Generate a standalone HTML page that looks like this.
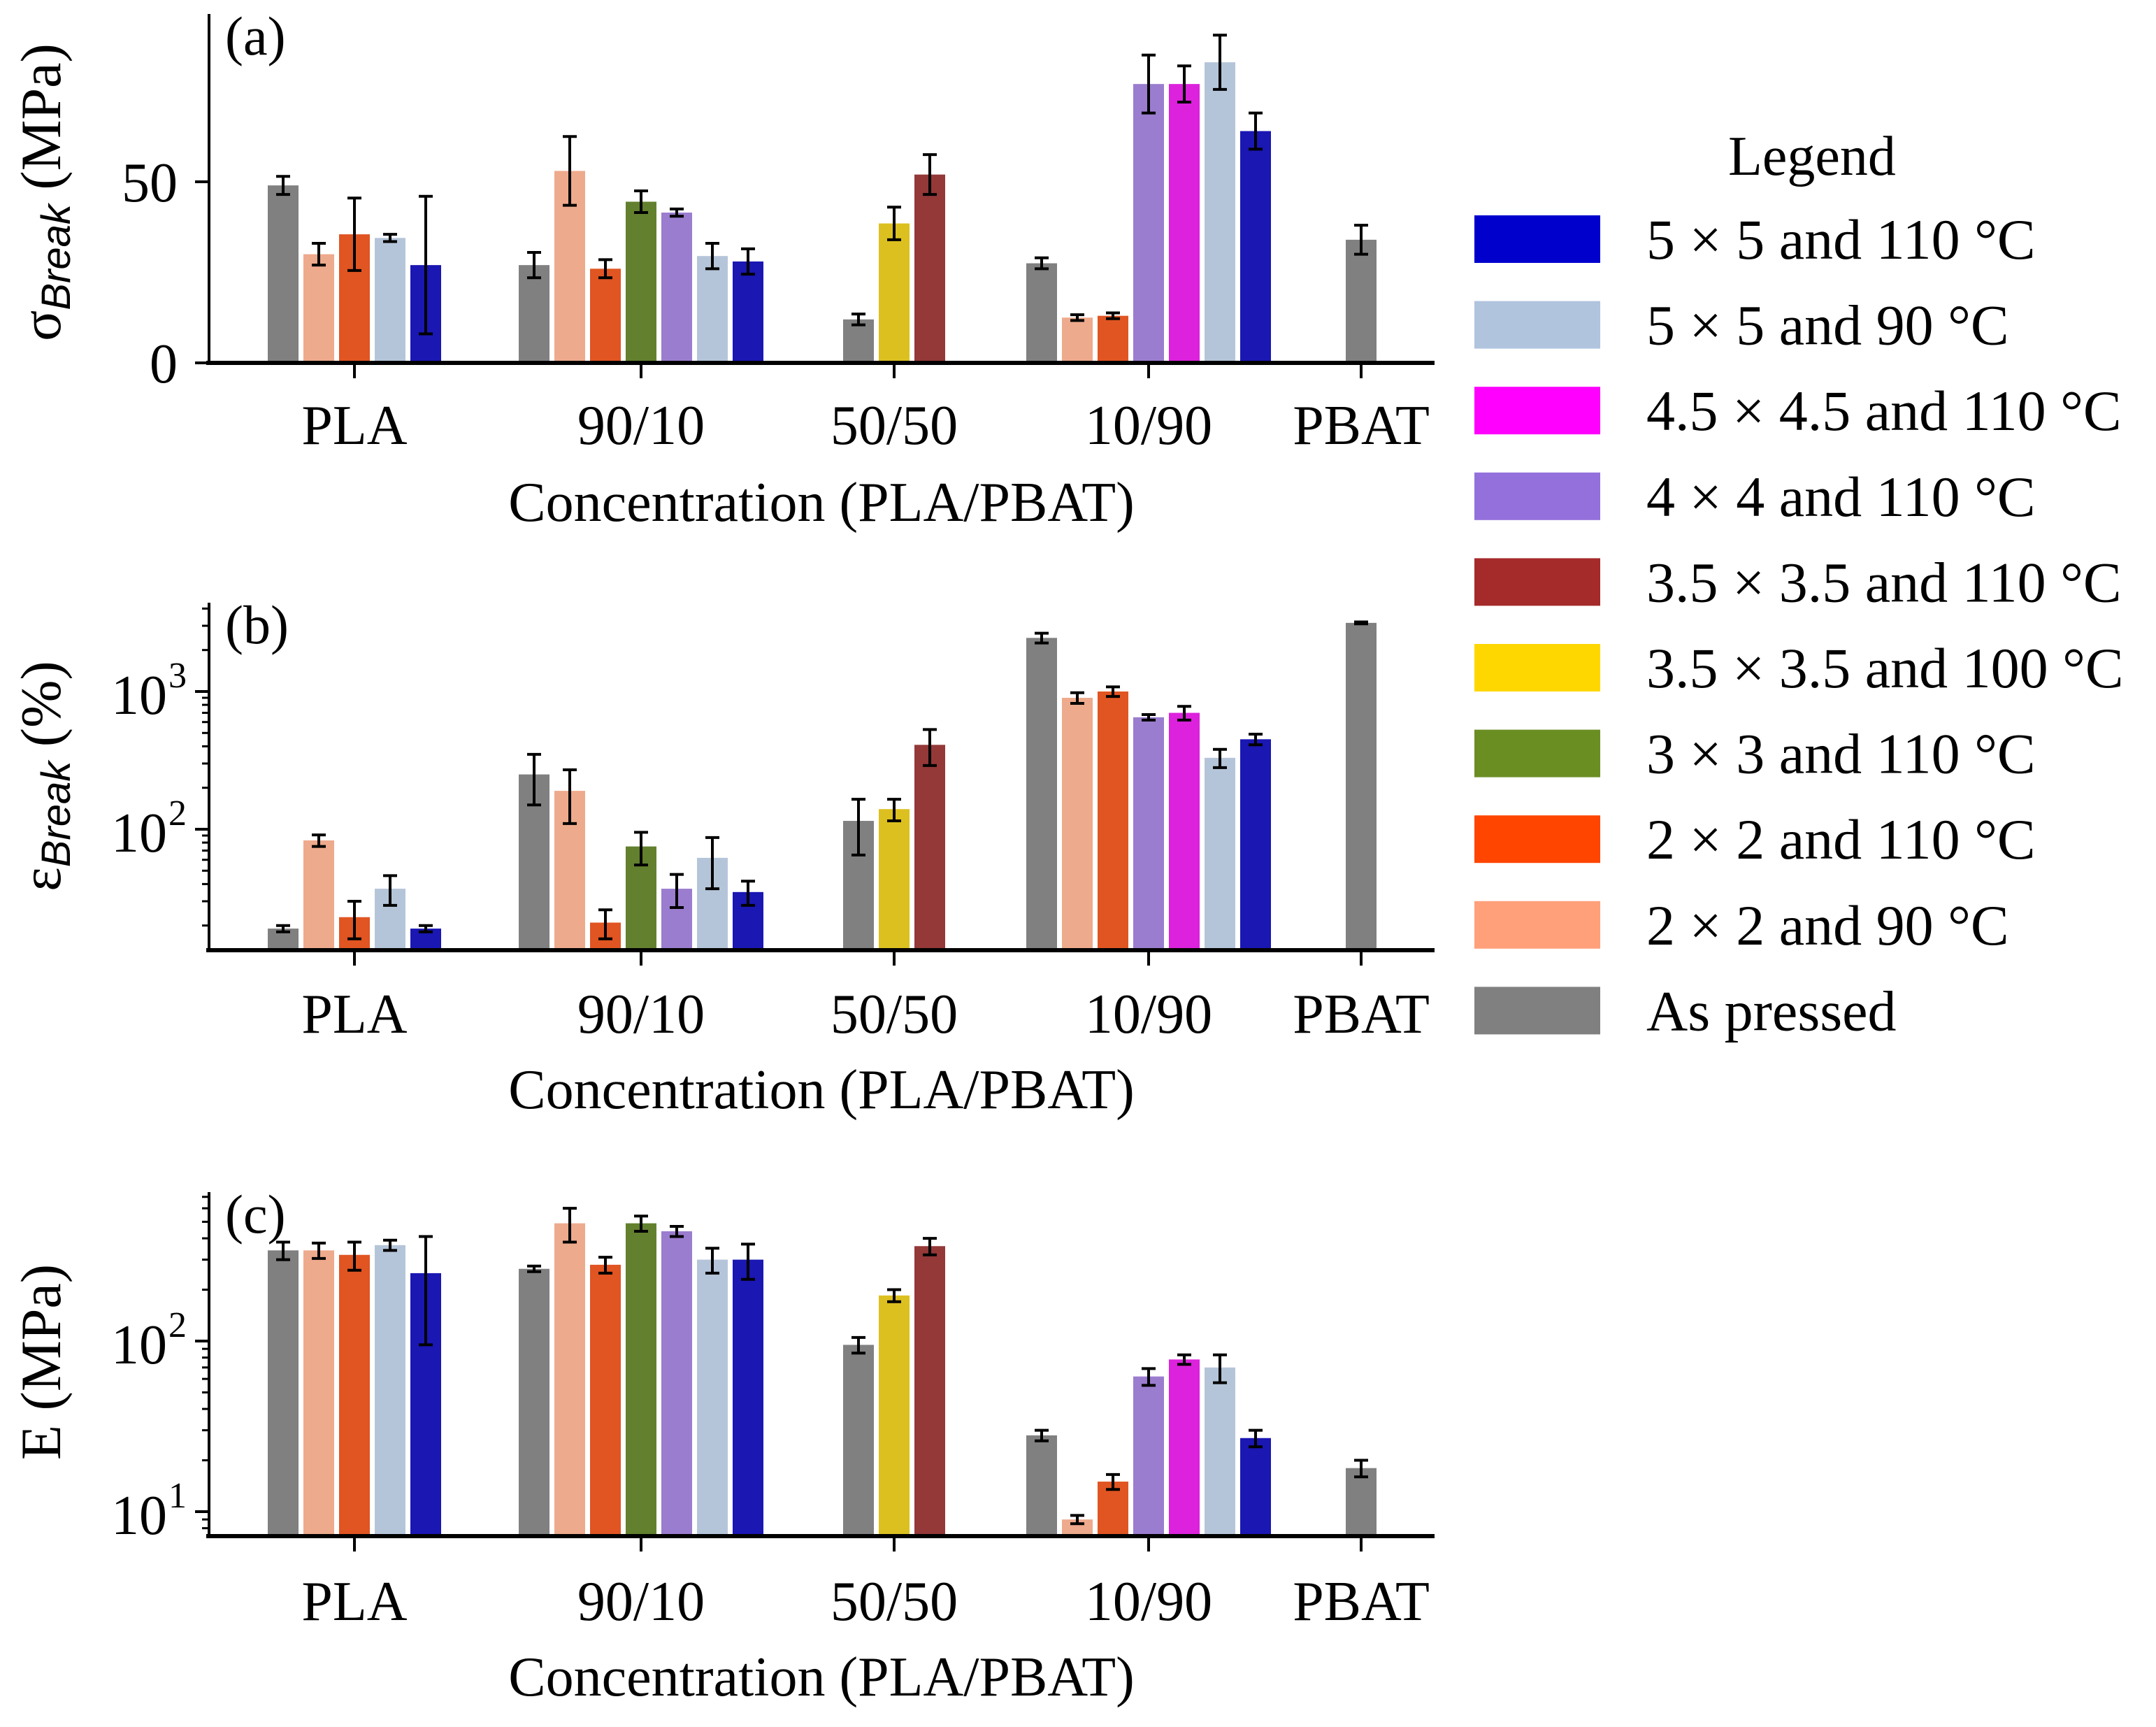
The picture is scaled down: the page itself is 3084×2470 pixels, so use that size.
<!DOCTYPE html>
<html><head><meta charset="utf-8"><style>
html,body{margin:0;padding:0;background:#fff;}
svg text{font-family:"Liberation Serif",serif;fill:#000;}
</style></head><body>
<svg id="fig" width="3084" height="2465" viewBox="0 0 3084 2465" xmlns="http://www.w3.org/2000/svg"></svg>
<script>
const categories = ["PLA","90/10","50/50","10/90","PBAT"];
const seriesNames = ["As pressed","2 × 2 and 90 °C","2 × 2 and 110 °C","3 × 3 and 110 °C","3.5 × 3.5 and 100 °C","3.5 × 3.5 and 110 °C","4 × 4 and 110 °C","4.5 × 4.5 and 110 °C","5 × 5 and 90 °C","5 × 5 and 110 °C"];
const barColors = ["#808080","#eeaa8c","#e05522","#62802e","#dcc020","#943838","#9b7dcf","#dc22dc","#b5c5d9","#1a17b3"];
const legendColors = ["#808080","#ffa07a","#ff4500","#6b8e23","#ffd700","#a52a2a","#9370db","#ff00ff","#b0c4de","#0000cd"];
// series index per group
const groupSeries = [[0,1,2,8,9],[0,1,2,3,6,8,9],[0,4,5],[0,1,2,6,7,8,9],[0]];
// panel a: sigma break (MPa)
const sigmaVals = [[49,30,35.5,34.5,27],[27,53,26,44.5,41.5,29.5,28],[12,38.5,52],[27.5,12.5,13,77,77,83,64],[34]];
const sigmaErr = [[2.5,3,10,1,19],[3.5,9.5,2.5,3,1,3.5,3.5],[1.5,4.5,5.5],[1.5,0.8,0.8,8,5,7.5,5],[4]];
// panel b: strain at break (%)
const epsVals = [[19,83,23,37,19],[250,190,21,75,37,62,35],[115,140,410],[2450,900,1000,650,700,330,450],[3150]];
const epsErr = [[1,8,7,9,1],[100,80,5,20,10,25,7],[50,25,120],[200,80,80,30,80,50,40],[50]];
// panel c: modulus (MPa)
const modVals = [[340,340,320,365,250],[265,490,280,490,440,300,300],[95,185,360],[28,9,15,62,78,70,27],[18]];
const modErr = [[40,35,60,25,160],[10,110,30,50,30,50,70],[10,15,40],[2,0.5,1.5,7,5,13,3],[2]];

const NS="http://www.w3.org/2000/svg";
const svg=document.getElementById('fig');
function mk(tag,attrs,parent){const e=document.createElementNS(NS,tag);for(const k in attrs)e.setAttribute(k,attrs[k]);(parent||svg).appendChild(e);return e;}
const catX=[507,917,1279,1643,1947];
const axL=299, axR=2052, step=51, bw=44;

const panels=[
 {id:'a',vals:sigmaVals,err:sigmaErr,log:false,bottom:519,top:20,y:v=>519-v*(259/50),label:'(a)',yl:'σ',sub:'Break',unit:' (MPa)',ylc:275,tickLY:635,titleY:745,
  ticks:[[0,'0'],[50,'50']]},
 {id:'b',vals:epsVals,err:epsErr,log:true,bottom:1359,top:862,y:v=>989-(Math.log10(v)-3)*197,label:'(b)',yl:'ε',sub:'Break',unit:' (%)',ylc:1110,tickLY:1477,titleY:1585,
  dec:[2,3],minorFrom:1,minorTo:3},
 {id:'c',vals:modVals,err:modErr,log:true,bottom:2197,top:1705,y:v=>1918-(Math.log10(v)-2)*244,label:'(c)',yl:'E',sub:'',unit:' (MPa)',ylc:1948,tickLY:2317,titleY:2425,
  dec:[1,2],minorFrom:0,minorTo:2}
];
panels.forEach(p=>{
  const g=mk('g',{});
  
  
  groupSeries.forEach((ss,gi)=>{
    const n=ss.length;
    ss.forEach((si,k)=>{
      const cx=catX[gi]+(k-(n-1)/2)*step;
      const v=p.vals[gi][k], e=p.err[gi][k];
      const yv=p.y(v);
      const r=mk('rect',{x:cx-bw/2,y:yv,width:bw,height:p.bottom-yv,fill:barColors[si]},g);
      
      
      let lo=v-e; if(p.log&&lo<=0)lo=v*0.5;
      if(p.id==='c'&&gi===0&&k===4)lo=95;
      const y1=p.y(v+e), y2=p.y(lo);
      const eb=mk('path',{d:`M${cx},${y1}V${y2}M${cx-10},${y1}H${cx+10}M${cx-10},${y2}H${cx+10}`,stroke:'#000','stroke-width':4,fill:'none'},g);
      
      
    });
  });
  const ya=mk('line',{x1:axL,y1:p.top,x2:axL,y2:p.bottom,stroke:'#000','stroke-width':4},g);
  
  
  const xa=mk('line',{x1:axL-4,y1:p.bottom,x2:axR,y2:p.bottom,stroke:'#000','stroke-width':6},g);
  
  
  catX.forEach((x,i)=>{
    mk('line',{x1:x,y1:p.bottom,x2:x,y2:p.bottom+22,stroke:'#000','stroke-width':4},g);
    const t=mk('text',{x:x,y:p.tickLY,'font-size':80,'text-anchor':'middle'},g);
    t.textContent=categories[i];
    
    
  });
  const xt=mk('text',{x:1175,y:p.titleY,'font-size':80,'text-anchor':'middle'},g);
  xt.textContent='Concentration (PLA/PBAT)';
  
  
  if(!p.log){
    p.ticks.forEach(([v,l])=>{
      const y=p.y(v);
      mk('line',{x1:axL-20,y1:y,x2:axL,y2:y,stroke:'#000','stroke-width':4},g);
      const t=mk('text',{x:axL-45,y:y+28,'font-size':80,'text-anchor':'end'},g);
      t.textContent=l;
      
      
    });
  } else {
    for(let d=p.minorFrom;d<=p.minorTo;d++){
      for(let m=2;m<=9;m++){const v=m*Math.pow(10,d);const y=p.y(v);if(y<p.top||y>p.bottom)continue;
        mk('line',{x1:axL-10,y1:y,x2:axL,y2:y,stroke:'#000','stroke-width':3},g);}
    }
    p.dec.forEach(d=>{
      const y=p.y(Math.pow(10,d));
      mk('line',{x1:axL-20,y1:y,x2:axL,y2:y,stroke:'#000','stroke-width':4},g);
      const t=mk('text',{x:axL-60,y:y+32,'font-size':80,'text-anchor':'end'},g);
      t.textContent='10';
      
      
      const s=mk('text',{x:axL-58,y:y-6,'font-size':52,'text-anchor':'start'},g);
      s.textContent=String(d);
    });
  }
  const pl=mk('text',{x:322,y:p.top+58,'font-size':78},g);
  pl.textContent=p.label;
  
  
  const yt=mk('text',{x:0,y:0,'font-size':82,'text-anchor':'middle',transform:`translate(86,${p.ylc}) rotate(-90)`},g);
  
  
  const t1=mk('tspan',{},yt);t1.textContent=p.yl;
  if(p.sub){const t2=mk('tspan',{'font-family':'Liberation Sans, sans-serif','font-style':'italic','font-size':58,dy:14},yt);t2.textContent=p.sub;
    const t3=mk('tspan',{dy:-14},yt);t3.textContent=p.unit;}
  else{const t3=mk('tspan',{},yt);t3.textContent=p.unit;}
});
const lg=mk('g',{});


const lt=mk('text',{x:2592,y:250,'font-size':80,'text-anchor':'middle'},lg);
lt.textContent='Legend';


for(let i=0;i<10;i++){
  const si=9-i;
  const cy=342+i*122.6;
  const e=mk('g',{},lg);
  
  
  mk('rect',{x:2109,y:cy-34,width:180,height:68,fill:legendColors[si]},e);
  const t=mk('text',{x:2355,y:cy+28,'font-size':82,textLength:null},e);
  t.removeAttribute('textLength');
  t.textContent=seriesNames[si];
}
</script>
</body></html>
